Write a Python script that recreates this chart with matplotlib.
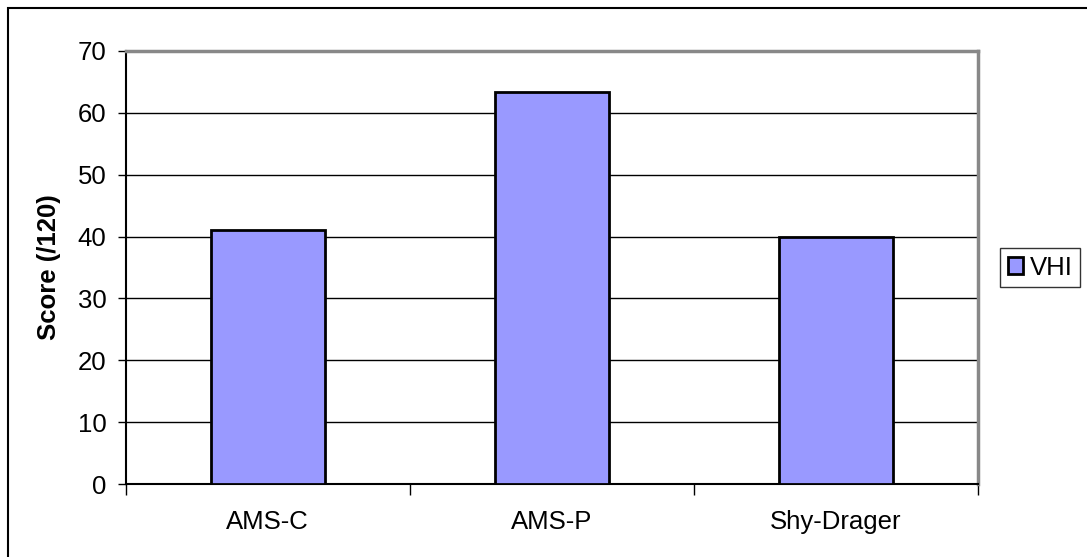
import matplotlib
matplotlib.use("Agg")
import matplotlib.pyplot as plt
from matplotlib.patches import Rectangle
from matplotlib.ticker import FixedLocator, NullFormatter

categories = ["AMS-C", "AMS-P", "Shy-Drager"]
vhi_scores = [41, 63.3, 40]
y_ticks = [0, 10, 20, 30, 40, 50, 60, 70]
series_name = "VHI"
y_label = "Score (/120)"

plt.rcParams["font.family"] = ["Liberation Sans", "DejaVu Sans"]
FS = 18.5

W, H = 1087, 557
fig = plt.figure(figsize=(W / 100, H / 100), dpi=100)
ax = fig.add_axes([125.7 / W, 1 - 484 / H, (978 - 125.7) / W, (484 - 51) / H])

x = list(range(len(categories)))
ax.bar(x, vhi_scores, width=0.4, color="#9999FF", edgecolor="black",
       linewidth=2.0, label=series_name, zorder=3)

ax.set_xlim(-0.5, len(categories) - 0.5)
ax.set_ylim(0, 70)
ax.set_yticks(y_ticks)
ax.yaxis.grid(True, color="black", linewidth=1.0, zorder=0)
ax.set_axisbelow(True)

# Category labels centred under bars; tick marks on category boundaries
ax.set_xticks(x)
ax.set_xticklabels(categories, fontsize=FS)
ax.tick_params(axis="x", which="major", length=0, pad=19)
ax.xaxis.set_minor_locator(FixedLocator([i - 0.5 for i in range(len(categories) + 1)]))
ax.xaxis.set_minor_formatter(NullFormatter())
ax.tick_params(axis="x", which="minor", length=8, width=1.0, direction="out", color="black")
ax.tick_params(axis="y", length=6, width=1.0, direction="out", pad=8, labelsize=FS)

for side in ("left", "bottom"):
    ax.spines[side].set_color("black")
    ax.spines[side].set_linewidth(1.5)
for side in ("top", "right"):
    ax.spines[side].set_color("#888888")
    ax.spines[side].set_linewidth(2.5)

ax.set_ylabel(y_label, fontsize=FS, fontweight="bold", labelpad=12)

leg = fig.legend(loc="upper left", bbox_to_anchor=(1000 / W, 1 - 248 / H),
                 fontsize=FS, frameon=True, fancybox=False, edgecolor="black",
                 handlelength=0.6, handleheight=0.6, handletextpad=0.25,
                 borderpad=0.3, borderaxespad=0)
leg.get_frame().set_linewidth(1.0)

# Outer chart frame
fig.patches.append(Rectangle((8 / W, -0.1), 1.2, 1 - 8 / H + 0.1,
                             transform=fig.transFigure, fill=False,
                             edgecolor="black", linewidth=1.5))

fig.savefig("out.png", dpi=100)
